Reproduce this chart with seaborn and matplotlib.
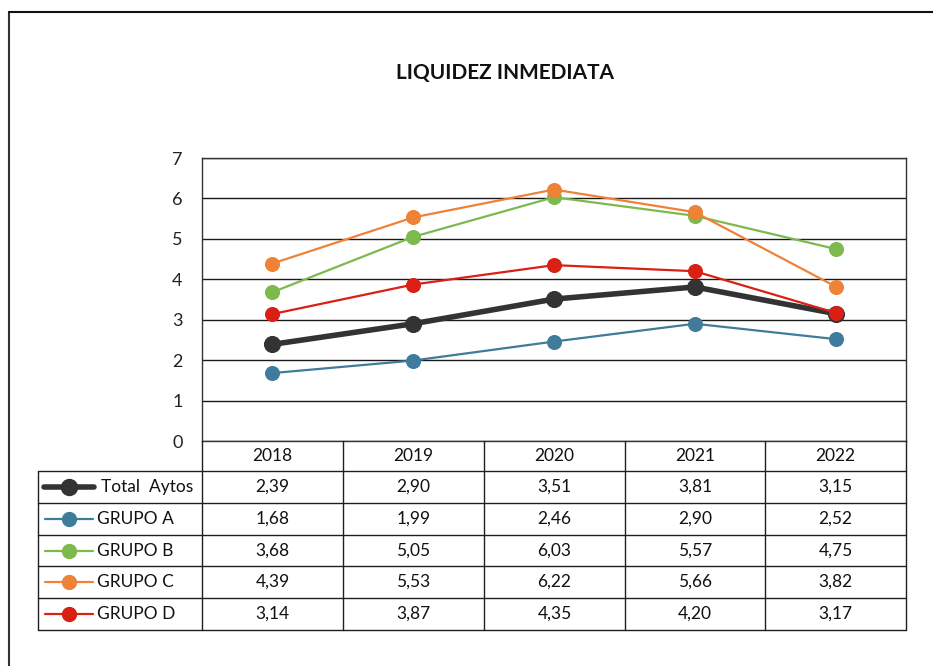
import matplotlib
matplotlib.use("Agg")
import matplotlib.pyplot as plt
from matplotlib.lines import Line2D
import seaborn as sns
import pandas as pd

years = ["2018", "2019", "2020", "2021", "2022"]
series_names = ["Total  Aytos", "GRUPO A", "GRUPO B", "GRUPO C", "GRUPO D"]
total_aytos = [2.39, 2.90, 3.51, 3.81, 3.15]
grupo_a = [1.68, 1.99, 2.46, 2.90, 2.52]
grupo_b = [3.68, 5.05, 6.03, 5.57, 4.75]
grupo_c = [4.39, 5.53, 6.22, 5.66, 3.82]
grupo_d = [3.14, 3.87, 4.35, 4.20, 3.17]
series_values = [total_aytos, grupo_a, grupo_b, grupo_c, grupo_d]
y_ticks = [0, 1, 2, 3, 4, 5, 6, 7]
title = "LIQUIDEZ INMEDIATA"

colors = ["#333333", "#3F7C9B", "#7DB94C", "#EF8236", "#DA1F15"]
widths = [4.0, 1.6, 1.6, 1.6, 1.6]
msizes = [11.5, 10, 10, 10, 10]

sns.set_theme(style="white")
plt.rcParams["font.family"] = ["Lato", "DejaVu Sans"]

W, H = 933, 666
fig = plt.figure(figsize=(W / 100, H / 100), dpi=100)


def fx(x):
    return x / W


def fy(y):
    return 1 - y / H


# plot area in pixel coordinates
left, right, top, bottom = 202, 906, 158, 441
ax = fig.add_axes([fx(left), fy(bottom), fx(right - left), (bottom - top) / H])

rows = []
for name, vals in zip(series_names, series_values):
    for i, v in enumerate(vals):
        rows.append({"serie": name, "pos": i, "valor": v})
df = pd.DataFrame(rows)

for name, c, lw, ms in zip(series_names, colors, widths, msizes):
    sub = df[df["serie"] == name]
    sns.lineplot(data=sub, x="pos", y="valor", ax=ax, color=c, linewidth=lw,
                 marker="o", markersize=ms, markeredgecolor=c,
                 markeredgewidth=0.8, legend=False, zorder=3)

ax.set_xlim(-0.5, len(years) - 0.5)
ax.set_ylim(0, 7)
ax.set_yticks(y_ticks)
ax.set_yticklabels([str(t) for t in y_ticks], fontsize=13, color="#222222")
ax.set_xticks([])
ax.set_xlabel("")
ax.set_ylabel("")
ax.tick_params(axis="y", length=0, pad=14)
ax.grid(axis="y", color="#1a1a1a", linewidth=1.0)
ax.set_axisbelow(True)
for side in ["left", "top", "right", "bottom"]:
    ax.spines[side].set_color("#333333")
    ax.spines[side].set_linewidth(1.0)

fig.text(fx(505), fy(73), title, ha="center", va="center",
         fontsize=15, fontweight="bold", color="#111111")

# data table under the plot area
col_edges = [202, 343, 484, 625, 765, 906]
row_edges = [471, 503, 535, 566, 598, 630]
tab_left = 38
lc = "#1f1f1f"
fs = 12.5


def hline(x0, x1, y, lw=1.0):
    fig.add_artist(Line2D([fx(x0), fx(x1)], [fy(y), fy(y)], color=lc, lw=lw))


def vline(x, y0, y1, lw=1.0):
    fig.add_artist(Line2D([fx(x), fx(x)], [fy(y0), fy(y1)], color=lc, lw=lw))


for x in col_edges:
    vline(x, bottom, row_edges[-1])
vline(tab_left, row_edges[0], row_edges[-1])
for y in row_edges:
    hline(tab_left, col_edges[-1], y)

for j, yr in enumerate(years):
    cx = (col_edges[j] + col_edges[j + 1]) / 2
    fig.text(fx(cx), fy((bottom + row_edges[0]) / 2), yr, ha="center",
             va="center", fontsize=fs, color="#111111")

for i, (name, vals, c, lw, ms) in enumerate(zip(series_names, series_values,
                                                 colors, widths, msizes)):
    cy = (row_edges[i] + row_edges[i + 1]) / 2
    for j, v in enumerate(vals):
        cx = (col_edges[j] + col_edges[j + 1]) / 2
        fig.text(fx(cx), fy(cy), f"{v:.2f}".replace(".", ","), ha="center",
                 va="center", fontsize=fs, color="#111111")
    x0, x1 = (44, 94) if i == 0 else (45, 93)
    fig.add_artist(Line2D([fx(x0), fx(x1)], [fy(cy), fy(cy)], color=c, lw=lw,
                          solid_capstyle="round"))
    fig.add_artist(Line2D([fx((x0 + x1) / 2)], [fy(cy)], color=c, marker="o",
                          markersize=ms, markeredgecolor=c, lw=0))
    fig.text(fx(101 if i == 0 else 97), fy(cy), name, ha="left", va="center",
             fontsize=fs, color="#111111")

# outer frame of the chart
fig.add_artist(Line2D([fx(9), fx(9)], [fy(12), 0], color="#333333", lw=1.5))
fig.add_artist(Line2D([fx(9), 1], [fy(12), fy(12)], color="#111111", lw=1.5))

fig.savefig("out.png", dpi=100)
